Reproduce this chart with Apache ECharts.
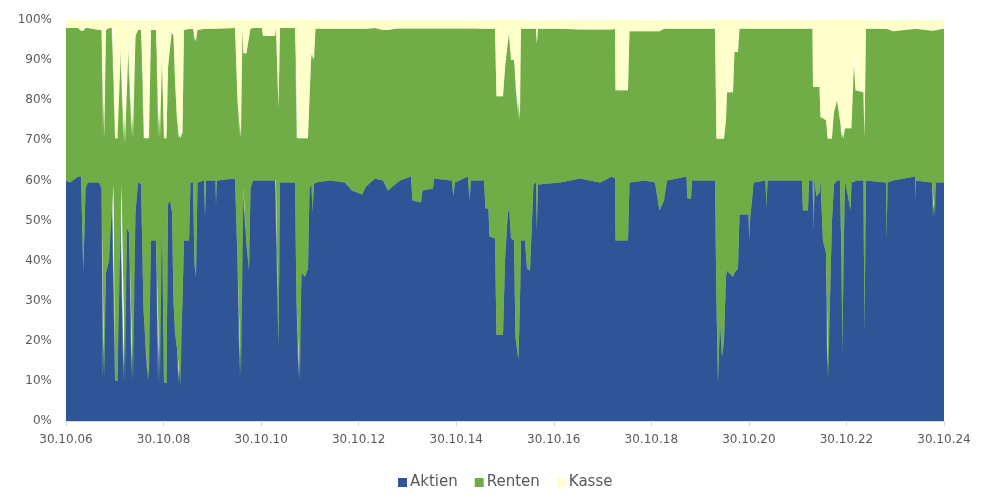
<!DOCTYPE html>
<html>
<head>
<meta charset="utf-8">
<script src="https://cdn.jsdelivr.net/npm/echarts@6/dist/echarts.min.js"></script>
<style>
  html, body { margin: 0; padding: 0; background: #ffffff; }
  #chart { width: 987px; height: 498px; }
</style>
</head>
<body>
<div id="chart"></div>
<script>
// x positions: years since 30.10.2006
const years = [
  0, 0.082, 0.246, 0.308, 0.355, 0.400, 0.451, 0.677, 0.728, 0.754,
  0.785, 0.820, 0.882, 0.933, 0.974, 1.005, 1.056, 1.097, 1.138, 1.179,
  1.210, 1.251, 1.292, 1.343, 1.374, 1.425, 1.476, 1.538, 1.589, 1.630,
  1.671, 1.702, 1.743, 1.845, 1.886, 1.927, 1.968, 2.009, 2.060, 2.091,
  2.132, 2.173, 2.204, 2.235, 2.276, 2.306, 2.347, 2.388, 2.419, 2.522,
  2.552, 2.604, 2.634, 2.665, 2.696, 2.829, 2.850, 2.870, 3.065, 3.075,
  3.091, 3.465, 3.516, 3.557, 3.588, 3.618, 3.639, 3.700, 3.752, 3.782,
  3.834, 4.018, 4.039, 4.285, 4.305, 4.356, 4.387, 4.695, 4.725, 4.766,
  4.797, 4.828, 4.900, 4.961, 4.992, 5.033, 5.053, 5.084, 5.115, 5.412,
  5.720, 5.863, 6.068, 6.150, 6.335, 6.499, 6.601, 6.745, 6.847, 7.073,
  7.103, 7.278, 7.308, 7.524, 7.544, 7.913, 7.940, 7.975, 8.241, 8.272,
  8.303, 8.569, 8.600, 8.661, 8.682, 8.795, 8.825, 8.959, 9.000, 9.061,
  9.092, 9.123, 9.184, 9.215, 9.256, 9.276, 9.307, 9.328, 9.410, 9.451,
  9.512, 9.553, 9.584, 9.635, 9.652, 9.676, 10.127, 10.537, 10.947, 11.193,
  11.255, 11.265, 11.521, 11.552, 11.870, 12.075, 12.167, 12.259, 12.321, 12.720,
  12.741, 12.813, 12.833, 13.305, 13.335, 13.366, 13.407, 13.448, 13.489, 13.530,
  13.551, 13.674, 13.704, 13.776, 13.807, 13.991, 14.008, 14.028, 14.063, 14.094,
  14.340, 14.360, 14.381, 15.088, 15.109, 15.211, 15.232, 15.303, 15.314, 15.330,
  15.344, 15.385, 15.447, 15.467, 15.518, 15.580, 15.607, 15.631, 15.662, 15.703,
  15.744, 15.806, 15.867, 15.898, 15.918, 15.939, 15.970, 16.086, 16.103, 16.123,
  16.164, 16.185, 16.349, 16.369, 16.400, 16.810, 16.824, 16.841, 16.953, 17.404,
  17.415, 17.425, 17.753, 17.774, 17.815, 17.835, 18.000
];

const aktien = [
  60, 59.5, 61, 61, 37, 58, 59.5, 59.5, 58, 10,
  10, 37, 40, 59, 59, 10, 10, 59, 59, 9.5,
  9.5, 48, 47, 10, 10, 52, 59.5, 59, 28, 19,
  10, 10, 45, 45, 9.5, 9.5, 50, 9.5, 9.5, 54,
  55, 52, 30, 22, 18, 9, 9, 30, 45, 45,
  59.5, 59.5, 39, 36, 59.5, 60, 51, 60, 60, 54,
  60, 60.5, 40, 10.5, 10.5, 58, 58, 44, 37.5, 58,
  60, 60, 60, 60, 60, 18, 59.5, 59.5, 30, 10,
  10, 37, 36, 38, 58, 59, 52, 59, 59.5, 60,
  59.5, 57.5, 56.5, 58.5, 60.5, 60, 57.5, 59, 60, 61,
  55, 54.5, 57.5, 58, 60.5, 60, 56, 59.5, 61, 55,
  60, 60, 53, 53, 46, 45.5, 21.5, 21.5, 40, 52.5,
  52, 45.5, 45, 21, 17, 15.4, 30, 45, 45, 38,
  37.5, 50, 59, 59.5, 47.5, 59, 59.5, 60.5, 59.5, 61,
  60.5, 45, 45, 59.5, 60, 59.5, 52.5, 55, 60, 61,
  55.5, 55.5, 60, 60, 30, 9.5, 25, 16, 20, 36,
  37.5, 36, 37, 38, 51.5, 51.5, 45, 51, 55, 59.5,
  60, 53, 60, 60, 52.5, 52.5, 60, 60, 60, 47.5,
  60, 56, 57, 60, 45, 42, 10.4, 10.4, 30, 50,
  59, 60, 60, 40, 16.7, 40, 60, 52.5, 60, 59.5,
  59.5, 60, 60, 22, 60, 59.5, 45, 59.5, 60, 61,
  55, 60, 59.5, 51, 51, 59.5, 59.5
];

const renten = [
  38, 38.5, 37, 36.3, 60.3, 40, 38.5, 38, 39.5, 60.5,
  60.5, 60.5, 58, 39, 39, 60.5, 60.5, 37.5, 37.5, 59.5,
  59.5, 49, 50, 60.5, 60.5, 44, 38, 38.5, 42.5, 51.5,
  60.5, 60.5, 52.5, 52.5, 61, 61, 40, 61, 61, 34,
  42.5, 45.5, 66, 63, 57, 61.5, 61.5, 42, 52.5, 52.8,
  38.3, 38.3, 55.6, 58.6, 38, 37.8, 46.8, 37.8, 37.8, 43.8,
  37.8, 37.5, 40, 60, 60, 39.5, 33.7, 47.7, 60.3, 39.8,
  38, 38, 36, 36, 38, 60, 38.5, 38.5, 40.5, 60.5,
  60.5, 33.5, 34.5, 32.5, 34.5, 33.5, 38, 31, 38.3, 37.8,
  38.3, 40.3, 41.3, 39.3, 37.5, 37.5, 40, 38.8, 37.9, 36.9,
  42.9, 43.4, 40.4, 39.9, 37.4, 37.9, 41.9, 38.4, 36.9, 42.9,
  37.9, 37.8, 44.8, 44.8, 51.8, 52.3, 59.5, 59.5, 48, 45.3,
  45.8, 44.5, 45, 62, 66, 59.6, 45, 52.8, 52.8, 59.8,
  60.3, 47.8, 38.8, 38.3, 46.5, 38.8, 38.3, 37.1, 38.1, 36.6,
  37.3, 37.5, 37.5, 37.7, 37.2, 37.7, 44.7, 42.8, 37.8, 36.8,
  42.3, 42.3, 37.8, 37.8, 40.4, 60.9, 45.4, 54.4, 50.4, 39,
  44.5, 46, 55, 54, 46.3, 46.3, 52.8, 46.8, 42.8, 38.3,
  37.8, 44.8, 37.8, 37.8, 45.3, 45.3, 37.8, 37.8, 23.3, 35.8,
  23.3, 27.3, 26.3, 15.8, 30.5, 33, 60, 60, 40.4, 20.4,
  18, 20, 15, 30.4, 53.7, 30.4, 13, 20.5, 13, 32.2,
  32.2, 22.5, 22, 48.4, 37.8, 38.3, 52.8, 38.3, 37.2, 36.8,
  42.8, 37.8, 37.8, 46.3, 46.3, 38.1, 38.3
];

const kasse = [
  2, 2, 2, 2.7, 2.7, 2, 2, 2.5, 2.5, 29.5,
  29.5, 2.5, 2, 2, 2, 29.5, 29.5, 3.5, 3.5, 31,
  31, 3, 3, 29.5, 29.5, 4, 2.5, 2.5, 29.5, 29.5,
  29.5, 29.5, 2.5, 2.5, 29.5, 29.5, 10, 29.5, 29.5, 12,
  2.5, 2.5, 4, 15, 25, 29.5, 29.5, 28, 2.5, 2.2,
  2.2, 2.2, 5.4, 5.4, 2.5, 2.2, 2.2, 2.2, 2.2, 2.2,
  2.2, 2, 20, 29.5, 29.5, 2.5, 8.3, 8.3, 2.2, 2.2,
  2, 2, 4, 4, 2, 22, 2, 2, 29.5, 29.5,
  29.5, 29.5, 29.5, 29.5, 7.5, 7.5, 10, 10, 2.2, 2.2,
  2.2, 2.2, 2.2, 2.2, 2, 2.5, 2.5, 2.2, 2.1, 2.1,
  2.1, 2.1, 2.1, 2.1, 2.1, 2.1, 2.1, 2.1, 2.1, 2.1,
  2.1, 2.2, 2.2, 2.2, 2.2, 2.2, 19, 19, 12, 2.2,
  2.2, 10, 10, 17, 17, 25, 25, 2.2, 2.2, 2.2,
  2.2, 2.2, 2.2, 2.2, 6, 2.2, 2.2, 2.4, 2.4, 2.4,
  2.2, 17.5, 17.5, 2.8, 2.8, 2.8, 2.8, 2.2, 2.2, 2.2,
  2.2, 2.2, 2.2, 2.2, 29.6, 29.6, 29.6, 29.6, 29.6, 25,
  18, 18, 8, 8, 2.2, 2.2, 2.2, 2.2, 2.2, 2.2,
  2.2, 2.2, 2.2, 2.2, 2.2, 2.2, 2.2, 2.2, 16.7, 16.7,
  16.7, 16.7, 16.7, 24.2, 24.5, 25, 29.6, 29.6, 29.6, 29.6,
  23, 20, 25, 29.6, 29.6, 29.6, 27, 27, 27, 8.3,
  8.3, 17.5, 18, 29.6, 2.2, 2.2, 2.2, 2.2, 2.8, 2.2,
  2.2, 2.2, 2.7, 2.7, 2.7, 2.4, 2.2
];

const tickLabels = ['30.10.06','30.10.08','30.10.10','30.10.12','30.10.14','30.10.16','30.10.18','30.10.20','30.10.22','30.10.24'];
const seriesNames = ['Aktien', 'Renten', 'Kasse'];
const seriesColors = ['#2F5597', '#70AD47', '#FFFFCC'];

// map "years since 30.10.2006" to timestamps so the x axis is a time axis (stacking then works on y)
const START = Date.UTC(2006, 9, 30);
const YEAR_MS = 365.25 * 24 * 3600 * 1000;
const toTime = (y) => START + y * YEAR_MS;
const pair = (vals) => years.map((t, i) => [toTime(t), vals[i]]);
const allVals = [aktien, renten, kasse];

const chart = echarts.init(document.getElementById('chart'), null, { renderer: 'canvas' });
const textColor = '#595959';
const font = 'DejaVu Sans';

chart.setOption({
  animation: false,
  backgroundColor: '#ffffff',
  grid: { left: 66, right: 43, top: 20, bottom: 77, containLabel: false },
  legend: {
    data: seriesNames,
    left: 398,
    top: 475,
    padding: 0,
    icon: 'rect',
    itemWidth: 9,
    itemHeight: 9,
    itemGap: 17,
    textStyle: { color: textColor, fontSize: 15, fontFamily: font, padding: [0, 0, 0, -2] }
  },
  xAxis: [
    {
      type: 'time',
      min: toTime(0),
      max: toTime(18),
      axisLine: { show: false },
      axisTick: { show: false },
      axisLabel: { show: false },
      splitLine: { show: false }
    },
    {
      type: 'value',
      position: 'bottom',
      min: 0,
      max: 18,
      interval: 2,
      axisLine: { show: true, onZero: false, lineStyle: { color: '#D9D9D9', width: 1 } },
      axisTick: { show: true, length: 5, lineStyle: { color: '#D9D9D9' } },
      splitLine: { show: false },
      axisLabel: {
        color: textColor, fontSize: 12, fontFamily: font, margin: 13,
        formatter: (v) => tickLabels[Math.round(v / 2)] || ''
      }
    }
  ],
  yAxis: {
    type: 'value',
    min: 0,
    max: 100,
    interval: 10,
    axisLine: { show: false },
    axisTick: { show: false },
    splitLine: { show: false },
    axisLabel: { color: textColor, fontSize: 12, fontFamily: font, margin: 14, formatter: '{value}%' }
  },
  series: seriesNames.map((name, k) => ({
    name: name,
    type: 'line',
    xAxisIndex: 0,
    stack: 'total',
    data: pair(allVals[k]),
    showSymbol: false,
    symbol: 'none',
    color: seriesColors[k],
    itemStyle: { color: seriesColors[k] },
    lineStyle: { width: 0.6, color: seriesColors[k] },
    areaStyle: { color: seriesColors[k], opacity: 1 },
    z: 2 + k
  }))
});
</script>
</body>
</html>
